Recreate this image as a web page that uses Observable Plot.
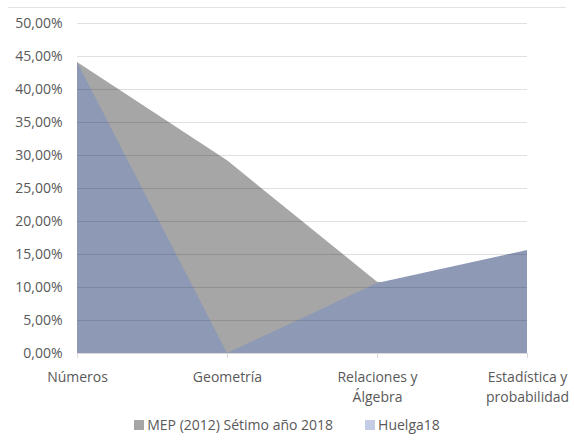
<!DOCTYPE html>
<html>
<head>
<meta charset="utf-8">
<script src="https://cdn.jsdelivr.net/npm/d3@7"></script>
<script src="https://cdn.jsdelivr.net/npm/@observablehq/plot@0.6"></script>
<style>
  body { margin: 0; background: #fff; font-family: "Open Sans", "Noto Sans", sans-serif; }
  #wrap { width: 574px; height: 446px; position: relative; }
  #topline { position: absolute; left: 8px; right: 8px; top: 7px; border-top: 1px solid #e3e3e3; }
  #chart { position: absolute; left: 0; top: 0; }
  #legend { position: absolute; left: 0; width: 574px; top: 415px; text-align: center; font-size: 14px; color: #595959; }
  #legend span.item { margin: 0 16px; white-space: nowrap; }
  #legend span.sw { display: inline-block; width: 10px; height: 10px; margin-right: 3px; vertical-align: 0px; }
</style>
</head>
<body>
<div id="wrap">
  <div id="topline"></div>
  <div id="chart"></div>
  <div id="legend"></div>
</div>
<script>
const categories = ["Números", "Geometría", "Relaciones y\nÁlgebra", "Estadística y\nprobabilidad"];
const seriesNames = ["MEP (2012) Sétimo año 2018", "Huelga18"];
const mepValues = [44.1, 29.2, 10.8, 9.5];
const huelgaValues = [44.1, 0.0, 10.6, 15.6];
const yTicks = [0, 5, 10, 15, 20, 25, 30, 35, 40, 45, 50];
const areaColors = ["#a6a6a6", "#8d99b5"];
const legendColors = ["#a6a6a6", "#c5cde6"];

const mep = categories.map((c, i) => ({cat: c, v: mepValues[i]}));
const huelga = categories.map((c, i) => ({cat: c, v: huelgaValues[i]}));
const fmt = d => d.toFixed(2).replace(".", ",") + "%";

const chart = Plot.plot({
  width: 574,
  height: 408,
  marginLeft: 77,
  marginRight: 47,
  marginTop: 23,
  marginBottom: 55,
  style: {fontFamily: "'Open Sans', 'Noto Sans', sans-serif", fontSize: "14px", color: "#595959", background: "transparent"},
  x: {type: "point", domain: categories, padding: 0, label: null},
  y: {domain: [0, 50], label: null},
  marks: [
    Plot.areaY(mep, {x: "cat", y: "v", fill: areaColors[0]}),
    Plot.areaY(huelga, {x: "cat", y: "v", fill: areaColors[1]}),
    Plot.gridY(yTicks, {stroke: "#000", strokeOpacity: 0.12}),
    Plot.ruleY([0], {stroke: "#d9d9d9"}),
    Plot.axisY(yTicks, {tickFormat: fmt, tickSize: 0, tickPadding: 15, fill: "#595959", fontSize: 14}),
    Plot.axisX({tickSize: 5, stroke: "#d9d9d9", tickPadding: 9, fill: "#595959", fontSize: 14, lineHeight: 1.45})
  ]
});
document.getElementById("chart").appendChild(chart);

const legend = document.getElementById("legend");
seriesNames.forEach((n, i) => {
  const item = document.createElement("span");
  item.className = "item";
  const sw = document.createElement("span");
  sw.className = "sw";
  sw.style.background = legendColors[i];
  item.appendChild(sw);
  item.appendChild(document.createTextNode(n));
  legend.appendChild(item);
});
</script>
</body>
</html>
